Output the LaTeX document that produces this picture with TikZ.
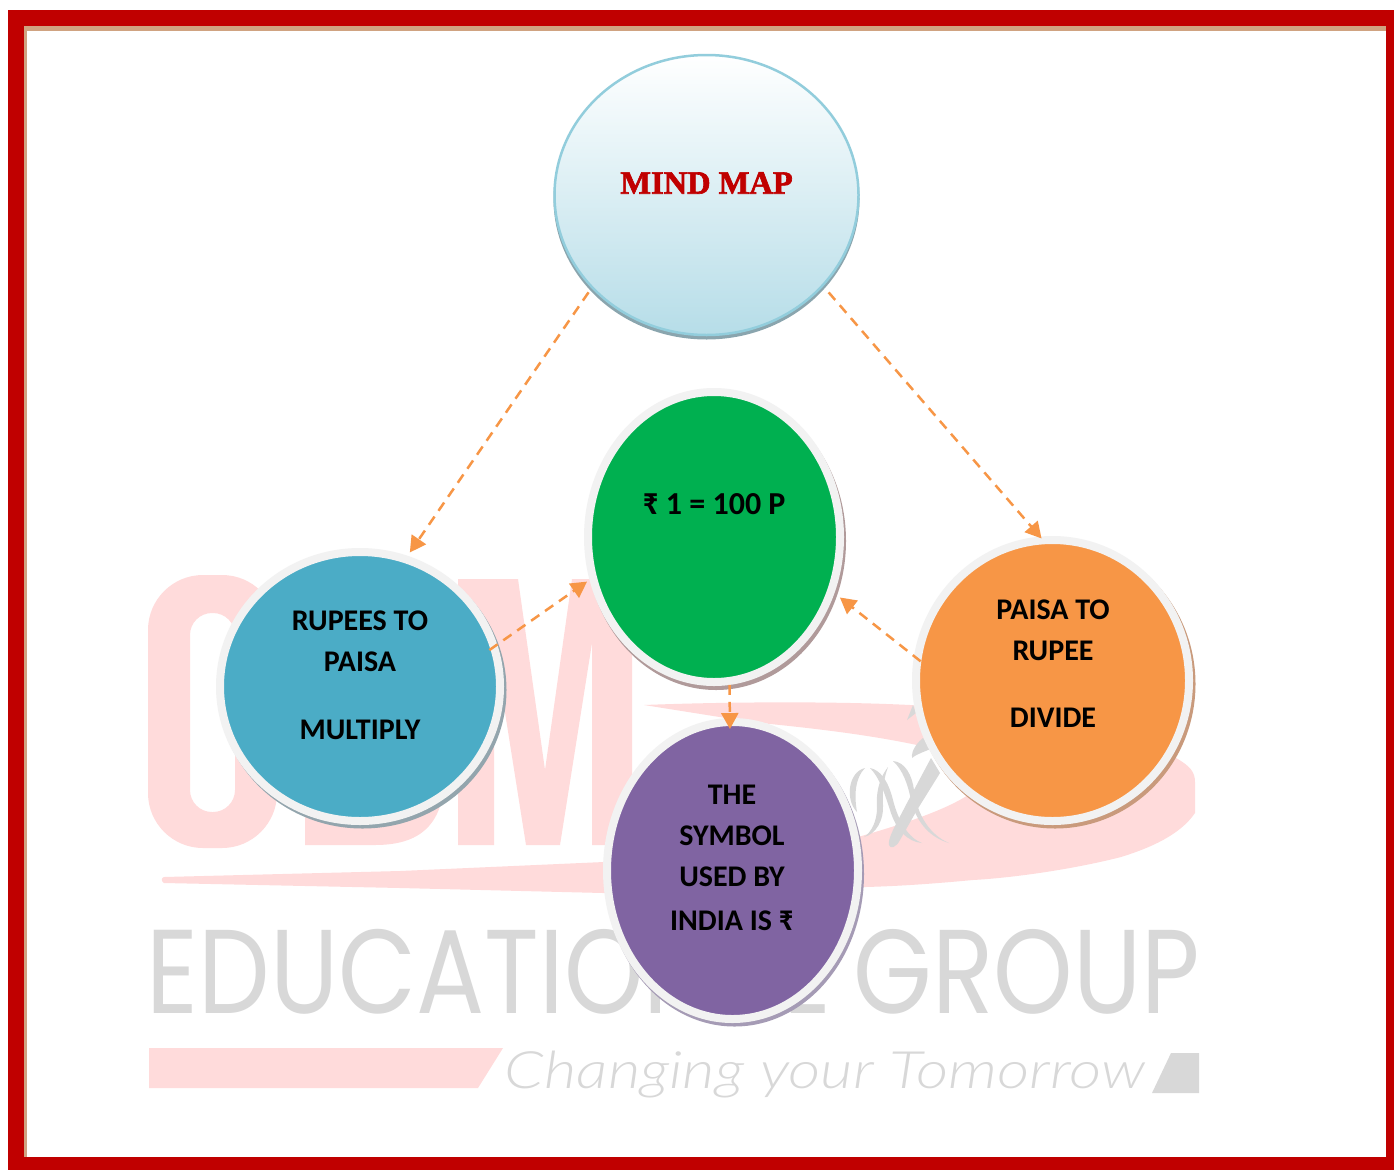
\documentclass[tikz,border=0pt]{standalone}
\usepackage{fontspec}
\setmainfont{Carlito}
\newfontfamily\mmfont[BoldFeatures={FakeBold=2}]{Liberation Serif}
\newfontfamily\eduf{Poppins}
\newfontfamily\tagf{Lato Light}
\usetikzlibrary{shapes.geometric,arrows.meta}
\definecolor{bordred}{HTML}{C00000}
\definecolor{bordtan}{HTML}{D0A381}
\definecolor{logopink}{HTML}{FFDBDB}
\definecolor{logogray}{HTML}{D8D8D8}
\definecolor{ringgray}{HTML}{F2F2F2}
\definecolor{linkor}{HTML}{F79646}
\definecolor{mindedge}{HTML}{92CDDC}
\definecolor{mindlow}{HTML}{B6DDE8}
\definecolor{mindshad}{HTML}{8AA5AE}
\definecolor{cgreen}{HTML}{00B050}
\definecolor{cblue}{HTML}{4BACC6}
\definecolor{corange}{HTML}{F79646}
\definecolor{cpurple}{HTML}{8064A2}
\definecolor{shgreen}{HTML}{B09A9A}
\definecolor{shblue}{HTML}{93A5AD}
\definecolor{shorange}{HTML}{C99A7C}
\definecolor{shpurple}{HTML}{A59BB5}
\tikzset{
  blob/.style={ellipse,inner sep=0pt,draw=ringgray,line width=8pt},
  lbl/.style={inner sep=0pt,align=center,text=black,font=\bfseries\fontsize{30}{41}\selectfont},
  link/.style={draw=linkor,line width=2.5pt,dash pattern=on 10pt off 7pt,-{Triangle[length=16pt,width=17pt]}},
  pinkfill/.style={fill=logopink,draw=none},
  grayfill/.style={fill=logogray,draw=none}
}
\begin{document}
\begin{tikzpicture}[x=1pt,y=-1pt]
\useasboundingbox (0,0) rectangle (1394,1170);
% frame
\fill[bordred] (8,10) rectangle (1394,1170);
\fill[white] (24,26) rectangle (1386,1157);
\fill[bordtan] (24,26) rectangle (1386,31);
\fill[bordtan] (24,26) rectangle (27,1157);
% logo: ODM
\fill[pinkfill,even odd rule] [rounded corners=55pt] (148,575) rectangle (277,848) [rounded corners=22pt] (190,613) rectangle (235,812);
\fill[pinkfill] (305,845) -- (305,579) -- (375,579) .. controls (430,579) and (445,620) .. (445,690) -- (445,770) .. controls (445,820) and (425,845) .. (375,845) -- cycle;
\fill[pinkfill] (458,845) -- (458,579) -- (518,579) -- (545,770) -- (572,579) -- (632,579) -- (632,845) -- (592,845) -- (592,643) -- (560,845) -- (526,845) -- (494,643) -- (494,845) -- cycle;
% logo: swoosh
\fill[pinkfill] (644,705) .. controls (720,702) and (830,701) .. (910,705)
  .. controls (1040,715) and (1130,735) .. (1176,758)
  .. controls (1190,766) and (1195,772) .. (1195,782) -- (1195,813)
  .. controls (1180,835) and (1150,848) .. (1121,857)
  .. controls (1070,870) and (1010,878) .. (973,880)
  .. controls (930,884) and (900,886) .. (866,887)
  -- (603,893) -- (400,888) -- (164,883)
  .. controls (161,881) and (161,878) .. (164,877)
  -- (400,871) -- (604,862)
  .. controls (700,855) and (790,850) .. (858,837)
  .. controls (900,825) and (940,812) .. (965,797)
  .. controls (990,780) and (960,755) .. (917,745)
  .. controls (860,733) and (800,727) .. (751,722) -- cycle;
% logo: elephant
\fill[grayfill] (931,758) -- (940,773) -- (917,810) -- (900,840) .. controls (896,848) and (890,849) .. (889,845) .. controls (888,838) and (893,830) .. (907,803) -- cycle;
\fill[grayfill] (923,738) -- (932,748) .. controls (925,752) and (918,753) .. (912,758) .. controls (911,750) and (918,742) .. (923,738) -- cycle;
\fill[grayfill] (913,705) -- (907,720) -- (916,713) -- cycle;
\fill[grayfill] (865,768) .. controls (848,772) and (845,800) .. (857,812) .. controls (854,795) and (855,778) .. (865,768) -- cycle;
\fill[grayfill] (870,768) .. controls (880,770) and (888,780) .. (893,800) .. controls (898,820) and (908,838) .. (922,843) .. controls (908,842) and (896,830) .. (890,810) .. controls (885,795) and (880,778) .. (870,768) -- cycle;
\fill[grayfill] (888,767) .. controls (878,780) and (876,795) .. (877,808) .. controls (877,820) and (872,832) .. (864,837) .. controls (876,834) and (884,820) .. (883,805) .. controls (882,790) and (884,778) .. (888,767) -- cycle;
\fill[grayfill] (893,761) .. controls (905,762) and (912,775) .. (914,790) .. controls (917,815) and (930,835) .. (949,843) .. controls (932,838) and (917,825) .. (911,800) .. controls (908,785) and (903,770) .. (893,761) -- cycle;
% logo: words
\node[inner sep=0pt,text=logogray] (edu) at (673.5,971.5) {\resizebox*{1053pt}{85pt}{\eduf EDUCATIONAL GROUP}};
\fill[pinkfill] (149,1048) -- (503,1048) -- (478,1088) -- (149,1088) -- cycle;
\node[inner sep=0pt,text=logogray] (tag) at (825,1075) {\resizebox*{640pt}{47pt}{\tagf\itshape Changing your Tomorrow}};
\fill[grayfill] (1171,1053) -- (1199,1053) -- (1199,1093) -- (1152,1093) -- cycle;
% circle shadows
\fill[mindshad] (706.5,199) ellipse [x radius=153, y radius=140.5];
\fill[shgreen] (716,541) ellipse [x radius=130, y radius=149];
\fill[shblue] (362.5,690) ellipse [x radius=144, y radius=138.5];
\fill[shorange] (1055,684) ellipse [x radius=140.5, y radius=144.5];
\fill[shpurple] (734.5,874) ellipse [x radius=129.5, y radius=152.5];
% circles
\node[ellipse,inner sep=0pt,draw=mindedge,line width=2.5pt,top color=white,bottom color=mindlow,minimum width=304pt,minimum height=280pt] (mind) at (706.5,195) {};
\node[blob,fill=cgreen,minimum width=252pt,minimum height=290pt] (green) at (714,537) {};
\node[blob,fill=cblue,minimum width=280pt,minimum height=269pt] (blue) at (360,686.5) {};
\node[blob,fill=corange,minimum width=273pt,minimum height=281pt] (orange) at (1052.5,680.5) {};
\node[blob,fill=cpurple,minimum width=251pt,minimum height=297pt] (purple) at (732.5,870.5) {};
% labels
\node[inner sep=0pt,text=bordred,font=\mmfont\bfseries\fontsize{32.5}{33}\selectfont] (mindtext) at (706.5,183) {MIND MAP};
\node[lbl,font=\bfseries\fontsize{32}{41}\selectfont] (greentext) at (714,504) {₹ 1 = 100 P};
\node[lbl] (bluetext) at (360,675) {RUPEES TO\\PAISA\\[27pt]MULTIPLY};
\node[lbl] (orangetext) at (1053,664) {PAISA TO\\RUPEE\\[26pt]DIVIDE};
\node[lbl] (purpletext) at (732,858) {THE\\SYMBOL\\USED BY\\[3pt]INDIA IS ₹};
% connectors
\draw[link,shorten <=5pt,shorten >=4pt] (mind.219) -- (blue.70);
\draw[link,shorten <=8pt,shorten >=-2.5pt] (mind.322) -- (orange.95);
\draw[link,shorten <=-9.6pt,shorten >=3pt] (blue.17) -- (green.199);
\draw[link,shorten <=-8.4pt,shorten >=7pt] (orange.170) -- (green.-25);
\draw[link,shorten >=-11pt] (green.-84) -- (purple.91);
\end{tikzpicture}
\end{document}
